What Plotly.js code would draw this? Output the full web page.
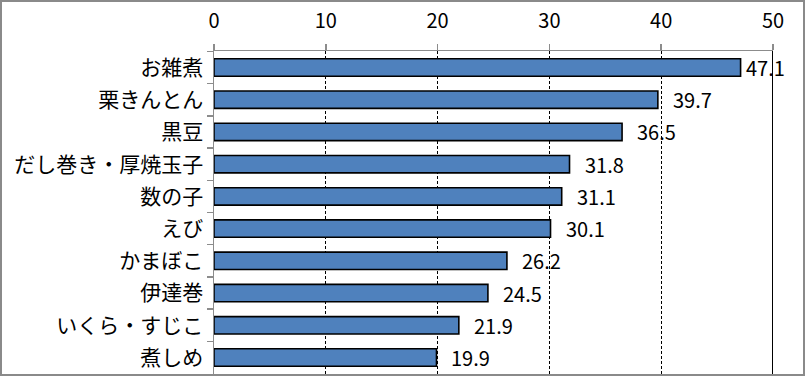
<!DOCTYPE html>
<html><head><meta charset="utf-8">
<script src="https://cdn.plot.ly/plotly-3.0.1.min.js"></script>
<style>
html,body{margin:0;padding:0;background:#fff;}
#chart{width:801px;height:372px;border:2px solid #8a8a8a;}
</style></head>
<body><div id="chart"></div>
<script>
const categories = ["お雑煮","栗きんとん","黒豆","だし巻き・厚焼玉子","数の子","えび","かまぼこ","伊達巻","いくら・すじこ","煮しめ"];
const values = [47.1,39.7,36.5,31.8,31.1,30.1,26.2,24.5,21.9,19.9];
const tickVals = [0,10,20,30,40,50];
const xMax = 50;

const jp = '"Noto Sans CJK JP", "Noto Sans", sans-serif';

const trace = {
  type: 'bar', orientation: 'h',
  x: values, y: categories,
  marker: {color: '#4F81BD', line: {color: '#000', width: 1.6}},
  hoverinfo: 'none'
};

const annotations = values.map((v, i) => ({
  x: v, y: categories[i], xref: 'x', yref: 'y',
  text: v.toFixed(1), showarrow: false, xanchor: 'left',
  xshift: v > 45 ? 3 : 13,
  font: {family: jp, size: 20, color: '#000'}
}));

const layout = {
  width: 801, height: 372,
  margin: {l: 212, r: 30, t: 49, b: 0},
  paper_bgcolor: '#fff', plot_bgcolor: '#fff',
  showlegend: false,
  bargap: 0.46,
  xaxis: {
    side: 'top', range: [0, xMax], tickvals: tickVals, ticktext: tickVals.map(String),
    showgrid: true, gridcolor: '#000', gridwidth: 1, griddash: '3px,2px',
    showline: true, linecolor: '#8c8c8c', linewidth: 1.5,
    ticks: 'outside', ticklen: 6, tickcolor: '#8c8c8c', tickwidth: 1.5,
    ticklabelstandoff: 8,
    zeroline: false,
    tickfont: {family: jp, size: 20, color: '#000'}, fixedrange: true
  },
  yaxis: {
    type: 'category', autorange: 'reversed',
    showline: true, linecolor: '#8c8c8c', linewidth: 1.5,
    ticks: 'outside', ticklen: 6, tickcolor: '#8c8c8c', tickwidth: 1.5,
    tickson: 'boundaries', showgrid: false,
    ticklabelstandoff: 5,
    tickfont: {family: jp, size: 21, color: '#000'}, fixedrange: true
  },
  shapes: [{
    type: 'line', xref: 'x', yref: 'paper', x0: xMax, x1: xMax, y0: 0, y1: 1,
    line: {color: '#000', width: 2}
  }],
  annotations: annotations
};

Plotly.newPlot('chart', [trace], layout, {displayModeBar: false, staticPlot: true});
</script></body></html>
